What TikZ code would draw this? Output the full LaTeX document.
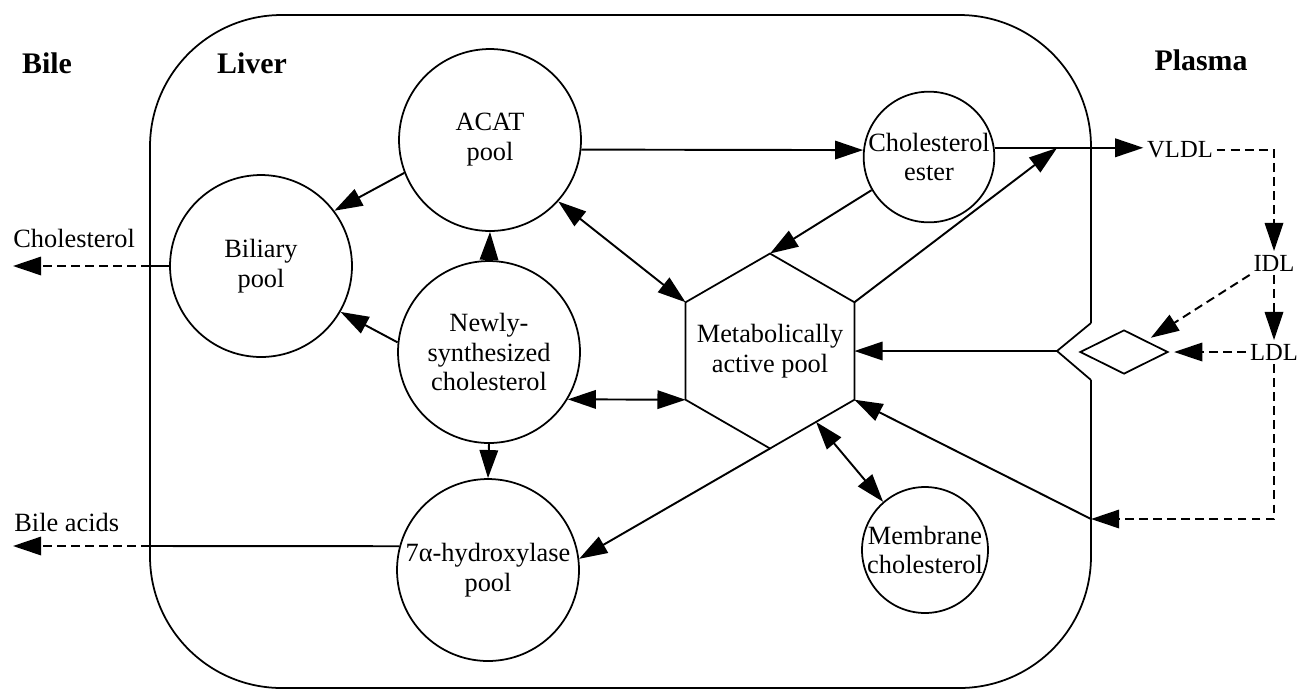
\documentclass[tikz,border=0pt]{standalone}
\usepackage{fontspec}
\setmainfont{Liberation Serif}
\usetikzlibrary{arrows.meta,shapes.geometric}

\tikzset{
  pool/.style={draw,circle,line width=1pt,inner sep=0pt,minimum size=3.64cm,
    align=center,font=\fontsize{15}{17}\selectfont},
  smallpool/.style={pool,minimum size=2.52cm},
  hexa/.style={draw,regular polygon,regular polygon sides=6,shape border rotate=30,
    line width=1pt,inner sep=0pt,outer sep=0pt,minimum size=3.9cm},
  gate/.style={draw,diamond,line width=1pt,inner sep=0pt,minimum width=1.76cm,
    minimum height=0.88cm},
  region/.style={font=\fontsize{17}{20}\selectfont\bfseries},
  lbl/.style={font=\fontsize{15}{17}\selectfont,inner sep=0pt,align=center},
  lipo/.style={font=\fontsize{14}{16}\selectfont,inner sep=2pt},
  flow/.style={-{Triangle[length=16pt,width=10.5pt]},line width=1.1pt},
  twoway/.style={{Triangle[length=16pt,width=10.5pt]}-{Triangle[length=16pt,width=10.5pt]},line width=1.1pt},
  dflow/.style={flow,dash pattern=on 5pt off 3pt},
}

\begin{document}
\begin{tikzpicture}[x=0.02cm,y=-0.02cm]
  \useasboundingbox (0,0) rectangle (1302,691);
  \draw[line width=1pt,rounded corners=75] (1091,323) -- (1091,15) -- (150,15)
    -- (150,688) -- (1091,688) -- (1091,380);
  \draw[line width=1pt] (1091,323) -- (1057,351) -- (1091,380);

  \node[region] (bile) at (47,63) {Bile};
  \node[region] (liver) at (252,63) {Liver};
  \node[region] (plasma) at (1201,60) {Plasma};
  \node[lbl,anchor=west] (chol) at (13,238) {Cholesterol};
  \node[lbl,anchor=west] (bacids) at (14,522) {Bile acids};

  \node[pool] (acat) at (490,140) {ACAT\\pool};
  \node[pool] (new) at (489,352) {Newly-\\synthesized\\cholesterol};
  \node[pool] (hyd) at (488,570) {7α-hydroxylase\\pool};
  \node[pool] (bil) at (261,266) {Biliary\\pool};
  \node[smallpool] (est) at (929,157) {Cholesterol\\ester};
  \node[smallpool] (mem) at (925,550) {Membrane\\cholesterol};
  \node[hexa] (met) at (770,351) {};
  \node[lbl] (mettext) at (met) {Metabolically\\active pool};
  \node[gate] (dia) at (1124,352) {};

  \node[lipo] (vldl) at (1180,150) {VLDL};
  \node[lipo] (idl) at (1274,263) {IDL};
  \node[lipo] (ldl) at (1274,352) {LDL};

  \coordinate (b1) at (150,266);
  \coordinate (b2) at (150,546);
  \coordinate (c1) at (13,266);
  \coordinate (c2) at (13,546);
  \coordinate (notch) at (1057,351);
  \coordinate (w1) at (1091,519);
  \coordinate (vj) at (1057,148);

  \draw[flow] (acat.-6) -- (est.174);
  \draw[flow] (est.8) -- (est.8 -| vldl.west);
  \draw[flow] (est.210) -- (met.90);
  \draw[flow] (met.30) -- (vj);
  \draw[flow] (acat.201) -- (bil.37);
  \draw[twoway] (acat.-42) -- (met.150);
  \draw[flow] (new.north) -- (acat.south);
  \draw[flow] (new.174) -- (bil.-30);
  \draw[twoway] (new.-31) -- (met.-150);
  \draw[flow] (new.south) -- (hyd.north);
  \draw[flow] (met.-90) -- (hyd.7);
  \draw[twoway] (met.-57) -- (mem.131);
  \draw[flow] (notch) -- (met.0);
  \draw[flow] (w1) -- (met.-30);

  \draw[line width=1.1pt] (bil.west) -- (b1);
  \draw[dflow] (b1) -- (c1);
  \draw[line width=1.1pt] (hyd.165) -- (b2);
  \draw[dflow] (b2) -- (c2);

  \draw[dflow] (vldl.east) -| (idl.north);
  \draw[dflow] (idl.south) -- (ldl.north);
  \draw[dflow,shorten >=3pt] (idl.south west) -- (dia.north east);
  \draw[dflow,shorten >=3pt] (ldl.west) -- (dia.east);
  \draw[dflow] (ldl.south) |- (w1);
\end{tikzpicture}
\end{document}
